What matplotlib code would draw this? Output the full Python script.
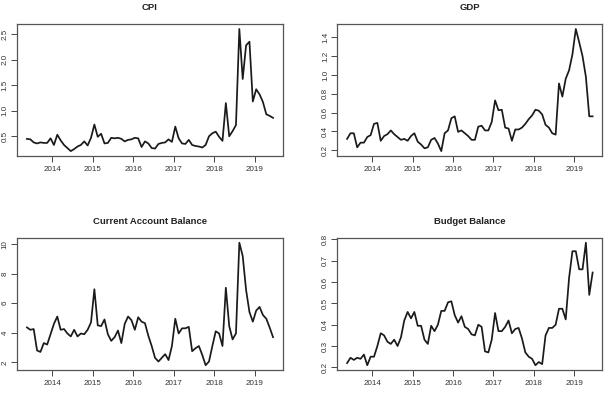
import numpy as np
import matplotlib
matplotlib.use("Agg")
import matplotlib.pyplot as plt

# monthly values, May 2013 .. June 2019
cpi = [0.45, 0.44, 0.38, 0.36, 0.38, 0.37, 0.37, 0.46, 0.33, 0.53,
       0.42, 0.33, 0.27, 0.21, 0.25, 0.30, 0.33, 0.40, 0.32, 0.47,
       0.73, 0.49, 0.55, 0.36, 0.37, 0.47, 0.46, 0.47, 0.45, 0.40,
       0.43, 0.44, 0.47, 0.46, 0.29, 0.40, 0.36, 0.27, 0.26, 0.35,
       0.37, 0.38, 0.44, 0.39, 0.69, 0.46, 0.36, 0.35, 0.43, 0.33,
       0.31, 0.30, 0.28, 0.33, 0.50, 0.56, 0.59, 0.49, 0.41, 1.15,
       0.50, 0.60, 0.72, 2.60, 1.62, 2.28, 2.35, 1.18, 1.42, 1.32,
       1.17, 0.93, 0.90, 0.86]
gdp = [0.32, 0.38, 0.38, 0.23, 0.28, 0.28, 0.34, 0.36, 0.48, 0.49,
       0.30, 0.35, 0.37, 0.41, 0.37, 0.34, 0.31, 0.32, 0.30, 0.35,
       0.38, 0.29, 0.26, 0.22, 0.23, 0.31, 0.33, 0.27, 0.19, 0.38,
       0.41, 0.54, 0.56, 0.395, 0.41, 0.38, 0.35, 0.31, 0.31, 0.45,
       0.46, 0.41, 0.41, 0.50, 0.73, 0.625, 0.63, 0.44, 0.43, 0.30,
       0.42, 0.42, 0.44, 0.48, 0.53, 0.57, 0.63, 0.62, 0.58, 0.47,
       0.44, 0.38, 0.365, 0.91, 0.77, 0.96, 1.05, 1.22, 1.49, 1.35,
       1.20, 0.98, 0.56, 0.56]
current_account = [4.36, 4.2, 4.25, 2.8, 2.7, 3.3, 3.2, 3.9, 4.6, 5.1,
                   4.2, 4.25, 3.95, 3.75, 4.2, 3.75, 3.95, 3.9, 4.2, 4.7,
                   6.95, 4.5, 4.45, 4.9, 3.9, 3.45, 3.7, 4.15, 3.3, 4.6,
                   5.1, 4.85, 4.2, 5.05, 4.75, 4.65, 3.8, 3.1, 2.3, 2.05,
                   2.3, 2.55, 2.15, 3.1, 4.95, 3.95, 4.3, 4.3, 4.4, 2.75,
                   2.95, 3.1, 2.5, 1.8, 2.05, 3.1, 4.1, 3.95, 3.1, 7.05,
                   4.45, 3.55, 3.95, 10.1, 9.2, 6.9, 5.4, 4.75, 5.5, 5.75,
                   5.2, 4.95, 4.35, 3.7]
budget = [0.22, 0.245, 0.235, 0.245, 0.24, 0.26, 0.21, 0.25, 0.25, 0.30,
          0.36, 0.35, 0.32, 0.31, 0.33, 0.30, 0.34, 0.42, 0.46, 0.43,
          0.46, 0.395, 0.395, 0.33, 0.31, 0.395, 0.37, 0.40, 0.465, 0.465,
          0.505, 0.51, 0.445, 0.41, 0.44, 0.39, 0.38, 0.355, 0.35, 0.40,
          0.39, 0.275, 0.27, 0.33, 0.455, 0.37, 0.37, 0.39, 0.42, 0.36,
          0.38, 0.385, 0.335, 0.27, 0.25, 0.24, 0.21, 0.225, 0.215, 0.35,
          0.385, 0.385, 0.40, 0.475, 0.475, 0.425, 0.62, 0.745, 0.745, 0.66,
          0.66, 0.785, 0.54, 0.645]

titles = ["CPI", "GDP", "Current Account Balance", "Budget Balance"]
series = [cpi, gdp, current_account, budget]
year_ticks = [2014, 2015, 2016, 2017, 2018, 2019]
y_ticks = [[0.5, 1.0, 1.5, 2.0, 2.5],
           [0.2, 0.4, 0.6, 0.8, 1.0, 1.2, 1.4],
           [2, 4, 6, 8, 10],
           [0.2, 0.3, 0.4, 0.5, 0.6, 0.7, 0.8]]
y_labels = [["0.5", "1.0", "1.5", "2.0", "2.5"],
            ["0.2", "0.4", "0.6", "0.8", "1.0", "1.2", "1.4"],
            ["2", "4", "6", "8", "10"],
            ["0.2", "0.3", "0.4", "0.5", "0.6", "0.7", "0.8"]]

# mid-month positions as decimal years, starting May 2013
months = np.arange(len(cpi))
t = 2013 + (4.5 + months) / 12

plt.rcParams["font.family"] = ["Liberation Sans", "DejaVu Sans"]

fig = plt.figure(figsize=(6.11, 4.01), dpi=100)
boxes = [[0.028, 0.611, 0.435, 0.329],
         [0.552, 0.611, 0.434, 0.329],
         [0.028, 0.077, 0.435, 0.330],
         [0.552, 0.077, 0.434, 0.330]]

for box, title, values, yt, yl in zip(boxes, titles, series, y_ticks, y_labels):
    ax = fig.add_axes(box)
    ax.plot(t, values, color="#1a1a1a", linewidth=1.25)
    ax.margins(x=0.04, y=0.04)
    ax.set_title(title, fontsize=6.8, fontweight="bold", pad=10, color="#222222")
    ax.set_xticks(year_ticks)
    ax.set_xticklabels([str(y) for y in year_ticks])
    ax.set_yticks(yt)
    ax.set_yticklabels(yl, rotation=90, va="center")
    ax.tick_params(axis="both", direction="out", length=4.0, width=0.7,
                   colors="#444444", labelsize=5.8, labelcolor="#333333")
    ax.tick_params(axis="x", pad=3.2)
    ax.tick_params(axis="y", pad=2.0)
    for spine in ax.spines.values():
        spine.set_color("#555555")
        spine.set_linewidth(0.9)

fig.savefig("out.png", dpi=100)
